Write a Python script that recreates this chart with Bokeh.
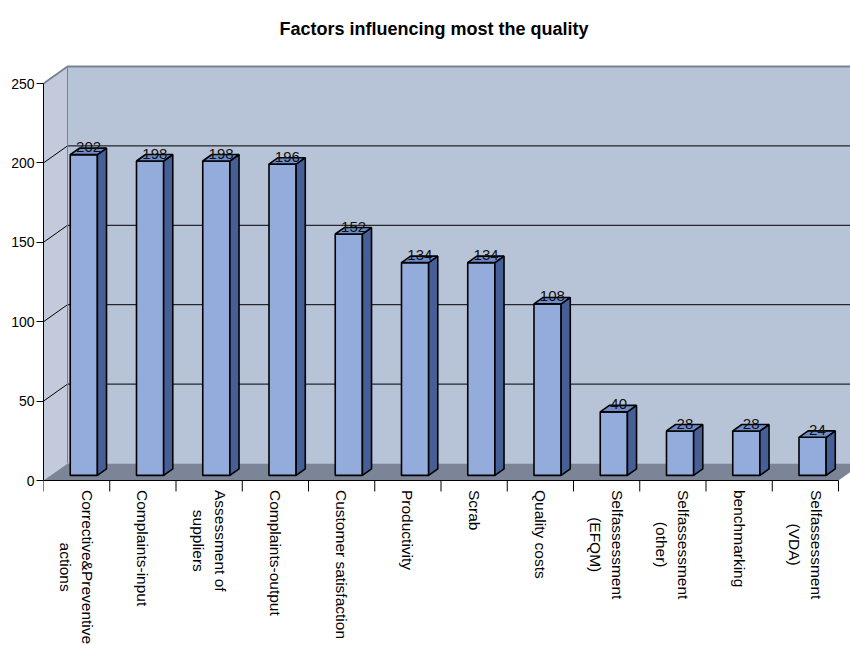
import math
from bokeh.plotting import figure
from bokeh.models import Range1d, FixedTicker, ColumnDataSource
from bokeh.core.properties import value
from bokeh.embed import file_html
from bokeh.resources import INLINE

# ---------------- data ----------------
title_text = "Factors influencing most the quality"
categories = [
    "Corrective&Preventive\nactions",
    "Complaints-input",
    "Assessment of\nsuppliers",
    "Complaints-output",
    "Customer satisfaction",
    "Productivity",
    "Scrab",
    "Quality costs",
    "Selfassessment\n(EFQM)",
    "Selfassessment\n(other)",
    "benchmarking",
    "Selfassessment\n(VDA)",
]
values = [202, 198, 198, 196, 152, 134, 134, 108, 40, 28, 28, 24]
y_ticks = [0, 50, 100, 150, 200, 250]
y_max = 250

# ---------------- geometry (pseudo 3D) ----------------
N = len(values)
W, H = 850, 645
LEFT, TOP_PX, ZERO_PX = 43, 45, 480
PX_X = 66.25          # px per category
PX_Y = 1.588          # px per value unit
DX = 24 / PX_X        # depth offset in x (data units)
DY = 17 / PX_Y        # depth offset in y (data units)
F0, F1 = 0.30, 0.68   # bar depth span (fraction of full depth)
HALF = 0.205          # half bar width (category units)

WALL = "#b7c3d7"
SIDEWALL = "#c2cadb"
FLOOR = "#7b8597"
EDGE = "#7a8292"
FRONT = "#94acdc"
SIDE = "#475f97"
TOP = "#6f8dcb"
FONT = "Liberation Sans"

p = figure(width=W, height=H, output_backend="svg", toolbar_location=None,
           x_range=Range1d(0, (W - LEFT) / PX_X),
           y_range=Range1d(-(H - ZERO_PX) / PX_Y, (ZERO_PX - TOP_PX) / PX_Y),
           min_border_left=LEFT, min_border_right=0, min_border_top=TOP_PX,
           min_border_bottom=0)
p.outline_line_color = None
p.xgrid.visible = False
p.ygrid.visible = False
p.xaxis.visible = False
p.background_fill_color = "white"
p.border_fill_color = "white"

# walls and floor
p.quad(left=[DX], right=[N + DX + 1], bottom=[DY], top=[y_max + DY],
       fill_color=WALL, line_color=None)
p.patch([0, 0, DX, DX], [0, y_max, y_max + DY, DY], fill_color=SIDEWALL, line_color=None)
p.patch([0, N, N + DX, DX], [0, 0, DY, DY], fill_color=FLOOR, line_color=None)

# gridlines on back wall and left side wall
grid_vals = [t for t in y_ticks if 0 < t < y_max]
p.segment(x0=[DX] * len(grid_vals), y0=[g + DY for g in grid_vals],
          x1=[N + DX + 1] * len(grid_vals), y1=[g + DY for g in grid_vals],
          line_color="black", line_width=1)
p.segment(x0=[0] * len(grid_vals), y0=grid_vals, x1=[DX] * len(grid_vals),
          y1=[g + DY for g in grid_vals], line_color="black", line_width=1)
# top edges of walls
p.line([0, DX, N + DX + 1], [y_max, y_max + DY, y_max + DY], line_color=EDGE, line_width=2)
p.line([DX, DX], [DY, y_max + DY], line_color=EDGE, line_width=1)

# bars
centers = [i + 0.5 for i in range(N)]
fl = [c - HALF + F0 * DX for c in centers]
fr = [c + HALF + F0 * DX for c in centers]
p.quad(left=fl, right=fr, bottom=[F0 * DY] * N, top=[v + F0 * DY for v in values],
       fill_color=FRONT, line_color="black", line_width=1.6)
side_xs, side_ys, top_xs, top_ys = [], [], [], []
dxd = (F1 - F0) * DX
dyd = (F1 - F0) * DY
for l, r, v in zip(fl, fr, values):
    b = F0 * DY
    t = v + F0 * DY
    side_xs.append([r, r + dxd, r + dxd, r])
    side_ys.append([b, b + dyd, t + dyd, t])
    top_xs.append([l, r, r + dxd, l + dxd])
    top_ys.append([t, t, t + dyd, t + dyd])
p.patches(side_xs, side_ys, fill_color=SIDE, line_color="black", line_width=1.6)
p.patches(top_xs, top_ys, fill_color=TOP, line_color="black", line_width=1.6)

# value labels
lab = ColumnDataSource(dict(
    x=[c + 0.5 * DX for c in centers],
    y=[v + 0.5 * DY + 4 / PX_Y for v in values],
    t=[str(v) for v in values]))
p.text(x="x", y="y", text="t", source=lab, text_align="center", text_baseline="middle",
       text_font_size="15px", text_color="#111111", text_font=value(FONT))

# y axis (real axis)
p.yaxis.ticker = FixedTicker(ticks=y_ticks)
p.yaxis.bounds = (0, y_max)
p.yaxis.minor_tick_line_color = None
p.yaxis.major_tick_in = 0
p.yaxis.major_tick_out = 7
p.yaxis.major_label_standoff = 2
p.yaxis.major_label_text_font = FONT
p.yaxis.major_label_text_font_size = "14px"
p.yaxis.major_label_text_color = "black"
p.yaxis.axis_line_color = "black"
p.yaxis.major_tick_line_color = "black"

# category axis: line, ticks between categories, rotated labels
TICK = 11 / PX_Y
p.segment(x0=[0], y0=[0], x1=[N], y1=[0], line_color="black", line_width=1)
p.segment(x0=list(range(N + 1)), y0=[0] * (N + 1), x1=list(range(N + 1)),
          y1=[-TICK] * (N + 1), line_color="black", line_width=1)

AW = {" ": 278, "&": 667, "(": 333, ")": 333, "-": 333, "A": 667, "C": 722, "D": 722,
      "E": 667, "F": 611, "M": 833, "O": 778, "P": 667, "Q": 778, "S": 667, "V": 667,
      "a": 556, "b": 556, "c": 500, "d": 556, "e": 556, "f": 278, "g": 556, "h": 556,
      "i": 222, "k": 500, "l": 222, "m": 833, "n": 556, "o": 556, "p": 556, "r": 333,
      "s": 500, "t": 278, "u": 556, "v": 500, "y": 500}
FS = 15.5
cy = []
for name in categories:
    L = max(sum(AW.get(ch, 556) for ch in line) for line in name.split("\n")) * FS / 1000
    cy.append(-(9.5 + L / 2) / PX_Y)
cat_src = ColumnDataSource(dict(x=centers, y=cy, t=categories))
p.text(x="x", y="y", text="t", source=cat_src, angle=-math.pi / 2,
       text_align="center", text_baseline="middle", text_font=value(FONT),
       text_font_size=f"{FS}px", text_color="black", text_line_height=1.3)

p.title.text = title_text
p.title.align = "left"
p.title.text_font = FONT
p.title.text_font_size = "18px"
p.title.text_font_style = "bold"
p.title.text_color = "black"
p.title.offset = 236
p.title.standoff = 13

open("out.html", "w").write(file_html(p, INLINE))
